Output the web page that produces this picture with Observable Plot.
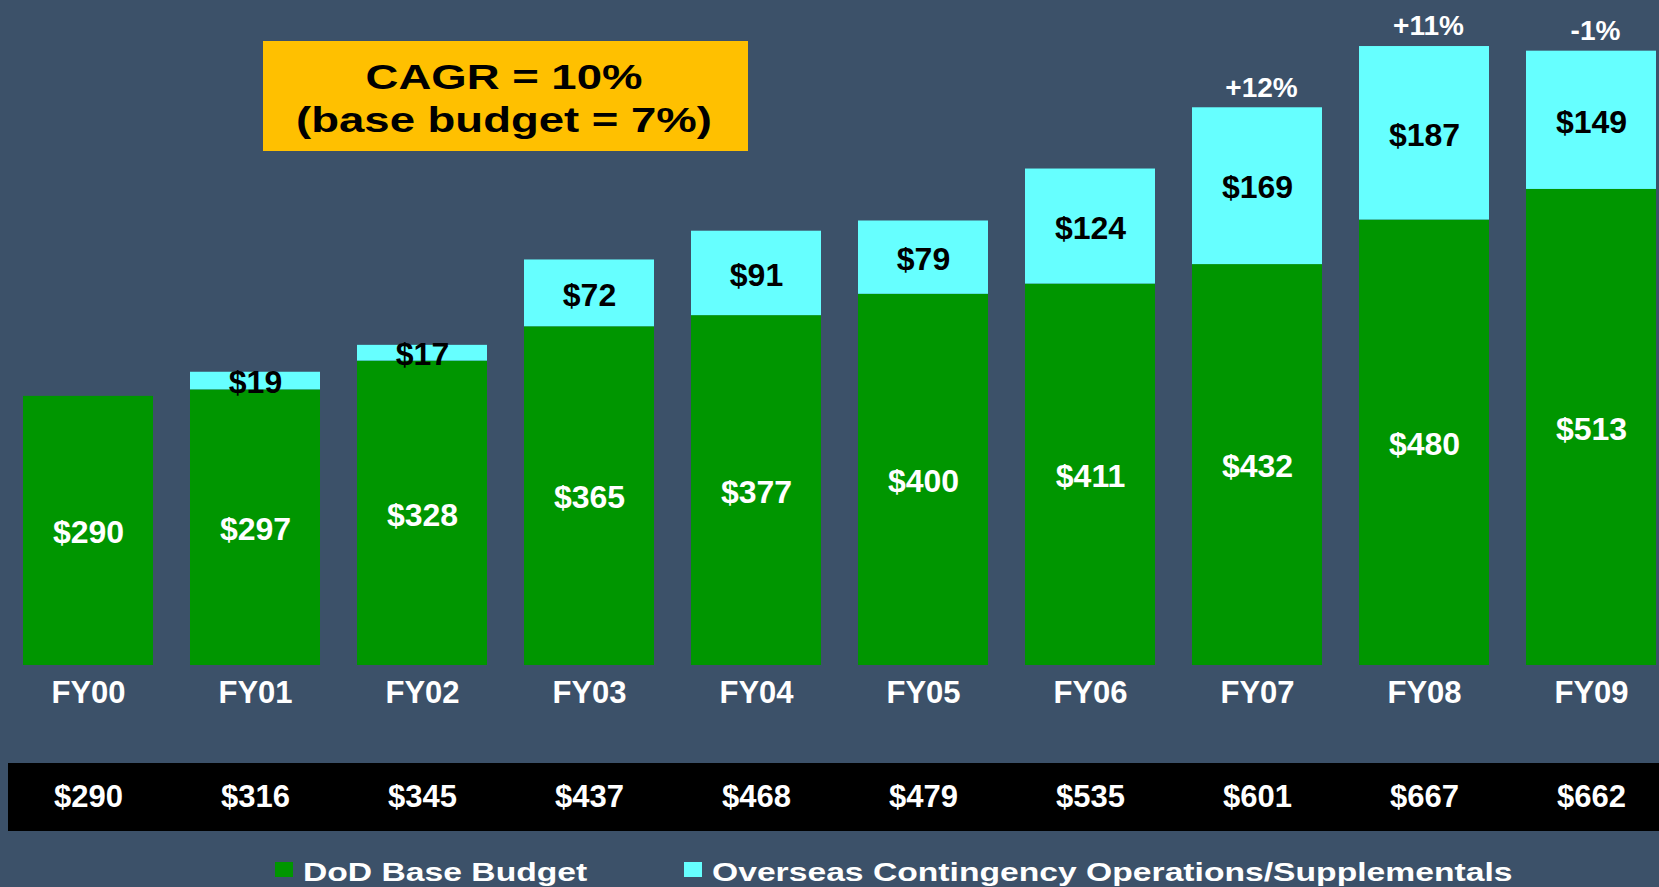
<!DOCTYPE html>
<html>
<head>
<meta charset="utf-8">
<script src="https://cdn.jsdelivr.net/npm/d3@7"></script>
<script src="https://cdn.jsdelivr.net/npm/@observablehq/plot@0.6"></script>
<style>
  html, body { margin: 0; padding: 0; background: #3C5169; }
  #wrap { position: relative; width: 1659px; height: 887px; overflow: hidden; background: #3C5169;
          font-family: "Liberation Sans", Arial, sans-serif; }
  #legend { position: relative; width: 1659px; height: 37px; }
  .sw { position: absolute; width: 18px; height: 15px; }
  .lt { position: absolute; color: #fff; font-weight: bold; font-size: 26.5px; line-height: 26.5px;
        white-space: nowrap; transform: scaleX(1.27); transform-origin: left center; }
</style>
</head>
<body>
<div id="wrap"></div>
<script>
// ---- data ----
const years = ["FY00","FY01","FY02","FY03","FY04","FY05","FY06","FY07","FY08","FY09"];
const baseBudget = [290, 297, 328, 365, 377, 400, 411, 432, 480, 513];
const ocoSupp = [0, 19, 17, 72, 91, 79, 124, 169, 187, 149];
const totals = [290, 316, 345, 437, 468, 479, 535, 601, 667, 662];
const growthLabels = ["", "", "", "", "", "", "", "+12%", "+11%", "-1%"];
const seriesNames = ["DoD Base Budget", "Overseas Contingency Operations/Supplementals"];
const seriesColors = ["#009600", "#66FFFF"];
const cagrLines = ["CAGR = 10%", "(base budget = 7%)"];

const colorOf = s => seriesColors[seriesNames.indexOf(s)];
const long = years.flatMap((yr, i) => [
  {year: yr, series: seriesNames[0], value: baseBudget[i]},
  {year: yr, series: seriesNames[1], value: ocoSupp[i]}
]);
const idx = d3.range(years.length);

function blackBand(index, scales, values, dim) {
  const g = d3.create("svg:g");
  g.append("rect").attr("x", 8).attr("y", 763).attr("width", dim.width - 8).attr("height", 68).attr("fill", "#000");
  return g.node();
}

function cagrBox(index, scales, values, dim) {
  const g = d3.create("svg:g");
  g.append("rect").attr("x", 263).attr("y", 41).attr("width", 485).attr("height", 110).attr("fill", "#FFC000");
  cagrLines.forEach((t, i) => {
    g.append("text")
      .attr("transform", `translate(504,${88.5 + 43 * i}) scale(1.3,1)`)
      .attr("text-anchor", "middle")
      .attr("font-size", 35)
      .attr("font-weight", "bold")
      .attr("fill", "#000")
      .text(t);
  });
  return g.node();
}

const chart = Plot.plot({
  width: 1659,
  height: 850,
  marginLeft: 22,
  marginRight: 1.2,
  marginTop: 0,
  marginBottom: 185,
  style: {background: "#3C5169", fontFamily: "Liberation Sans, Arial, sans-serif", overflow: "visible"},
  x: {type: "band", domain: years, paddingInner: 0.22, paddingOuter: 0, axis: null},
  y: {domain: [0, 716.6], axis: null},
  color: {type: "identity"},
  marks: [
    Plot.barY(long, {x: "year", y: "value", z: "series", fill: d => colorOf(d.series), filter: d => d.value > 0}),
    Plot.text(long, Plot.stackY({
      x: "year", y: "value", z: "series",
      text: d => d.series === seriesNames[0] ? "$" + d.value : null,
      fill: "white", fontSize: 32, fontWeight: "bold", dy: 2
    })),
    Plot.text(long, Plot.stackY({
      x: "year", y: "value", z: "series",
      text: d => (d.series === seriesNames[1] && d.value > 0) ? "$" + d.value : null,
      fill: "black", fontSize: 32, fontWeight: "bold", dy: 2
    })),
    Plot.text(idx, {
      x: i => years[i], y: i => totals[i], text: i => growthLabels[i] || null,
      fill: "white", fontSize: 28, fontWeight: "bold", dy: -20, dx: 4
    }),
    Plot.text(idx, {
      x: i => years[i], text: i => years[i], frameAnchor: "bottom", lineAnchor: "middle",
      dy: 28, fill: "white", fontSize: 31, fontWeight: "bold"
    }),
    blackBand,
    Plot.text(idx, {
      x: i => years[i], text: i => "$" + totals[i], frameAnchor: "bottom", lineAnchor: "middle",
      dy: 132, fill: "white", fontSize: 31, fontWeight: "bold"
    }),
    cagrBox
  ]
});

const wrap = document.getElementById("wrap");
wrap.appendChild(chart);

// legend below the chart
const legend = document.createElement("div");
legend.id = "legend";
const swatchX = [275, 684];
const textX = [303, 712];
seriesNames.forEach((name, i) => {
  const sw = document.createElement("div");
  sw.className = "sw";
  sw.style.left = swatchX[i] + "px";
  sw.style.top = "12px";
  sw.style.background = seriesColors[i];
  legend.appendChild(sw);
  const t = document.createElement("span");
  t.className = "lt";
  t.style.left = textX[i] + "px";
  t.style.top = "8.6px";
  t.textContent = name;
  legend.appendChild(t);
});
wrap.appendChild(legend);
</script>
</body>
</html>
